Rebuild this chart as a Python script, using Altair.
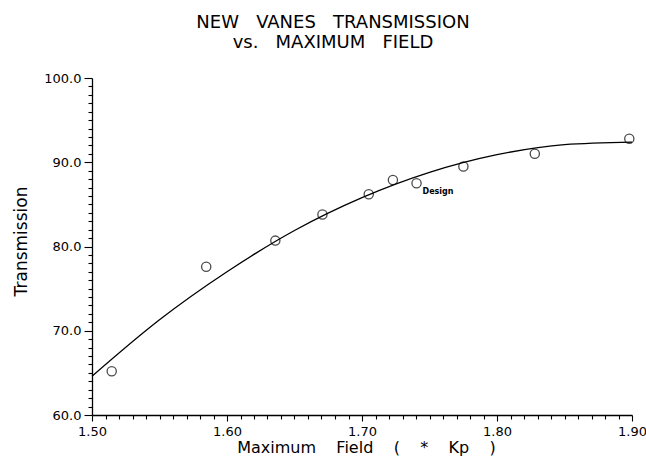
import altair as alt
import pandas as pd

# measured points (open circles)
field = [1.5146, 1.5846, 1.6358, 1.6707, 1.7050, 1.7229, 1.7404, 1.7751, 1.8280, 1.8980]
trans = [65.2, 77.6, 80.7, 83.8, 86.2, 87.9, 87.5, 89.5, 91.0, 92.8]

# fitted curve
curve_x = [1.50, 1.55, 1.60, 1.65, 1.70, 1.75, 1.80, 1.85, 1.90]
curve_y = [64.6, 71.3, 77.0, 81.9, 85.8, 88.8, 90.9, 92.1, 92.4]

# annotation
label_x = [1.7404]
label_y = [87.5]
label_text = ["Design"]

# ticks
x_ticks = [round(1.50 + i * 0.01, 2) for i in range(41)]
y_ticks = [60 + i for i in range(41)]

pts = pd.DataFrame({"x": field, "y": trans})
crv = pd.DataFrame({"x": curve_x, "y": curve_y})
lab = pd.DataFrame({"x": label_x, "y": label_y, "t": label_text})

FONT = "DejaVu Sans"
SP = "\u00a0\u00a0\u00a0 "

xscale = alt.Scale(domain=[1.5, 1.9], nice=False, zero=False)
yscale = alt.Scale(domain=[60, 100], nice=False, zero=False)

xaxis = alt.Axis(
    title=f"Maximum{SP}Field{SP}({SP}*{SP}Kp{SP})",
    values=x_ticks, tickCount=200,
    labelExpr="round(datum.value*100) % 10 == 0 ? format(datum.value, '.2f') : ''",
    tickSize={"condition": {"test": "round(datum.value*100) % 10 == 0", "value": 6}, "value": 4},
    labelOverlap=False,
    grid=False, domainColor="black", tickColor="black", domainWidth=1.3, tickWidth=1.1,
    labelFont=FONT, labelFontSize=13, labelColor="black", labelPadding=4, labelFlush=False,
    titleFont=FONT, titleFontSize=16, titleFontWeight="normal", titleColor="black",
    titleX=274, titleY=37, titleBaseline="alphabetic", titleAlign="center",
)
yaxis = alt.Axis(
    title="Transmission",
    values=y_ticks, tickCount=200,
    labelExpr="datum.value % 10 == 0 ? format(datum.value, '.1f') : ''",
    tickSize={"condition": {"test": "datum.value % 10 == 0", "value": 8}, "value": 4},
    labelOverlap=False,
    grid=False, domainColor="black", tickColor="black", domainWidth=1.3, tickWidth=1.1,
    labelFont=FONT, labelFontSize=13, labelColor="black", labelPadding=3,
    titleFont=FONT, titleFontSize=17, titleFontWeight="normal", titleColor="black",
    titleX=-66, titleY=163, titleAngle=-90, titleBaseline="alphabetic", titleAlign="center",
)

line = alt.Chart(crv).mark_line(color="black", strokeWidth=1.3, interpolate="monotone").encode(
    x=alt.X("x:Q", scale=xscale, axis=xaxis),
    y=alt.Y("y:Q", scale=yscale, axis=yaxis),
)
points = alt.Chart(pts).mark_point(shape="circle", filled=False, color="black", size=85, strokeWidth=1.3).encode(
    x="x:Q", y="y:Q"
)
text = alt.Chart(lab).mark_text(align="left", baseline="middle", dx=6, dy=9, font=FONT,
                                fontSize=8, fontWeight="bold", color="black").encode(
    x="x:Q", y="y:Q", text="t:N"
)

chart = alt.layer(line, points, text).properties(
    width=540, height=337,
    background="white",
    title=alt.TitleParams(
        text=["NEW\u00a0\u00a0 VANES\u00a0\u00a0 TRANSMISSION", "vs.\u00a0\u00a0 MAXIMUM\u00a0\u00a0 FIELD"],
        font=FONT, fontSize=18, fontWeight="normal", color="black",
        anchor="middle", frame="group", dx=-29, offset=20, lineHeight=20,
    ),
    autosize=alt.AutoSizeParams(type="none"),
    padding={"left": 92, "top": 78, "right": 14, "bottom": 45},
).configure_view(stroke=None)

chart.save("out.html", embed_options={"renderer": "svg", "actions": False})
